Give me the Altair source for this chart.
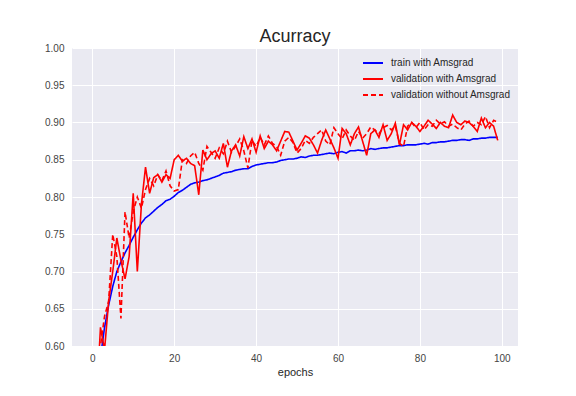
import altair as alt
import pandas as pd

epochs = list(range(100))

train_amsgrad = [
    0.35, 0.50, 0.585, 0.625, 0.655, 0.68, 0.70, 0.713, 0.725, 0.735,
    0.746, 0.756, 0.765, 0.772, 0.776, 0.781, 0.786, 0.79, 0.795, 0.797,
    0.801, 0.806, 0.809, 0.813, 0.817, 0.819, 0.82, 0.822, 0.823, 0.825,
    0.827, 0.829, 0.832, 0.833, 0.834, 0.836, 0.837, 0.838, 0.838, 0.841,
    0.843, 0.844, 0.845, 0.846, 0.846, 0.847, 0.849, 0.850, 0.851, 0.851,
    0.852, 0.854, 0.853, 0.855, 0.856, 0.856, 0.857, 0.858, 0.859, 0.858,
    0.860, 0.861, 0.859, 0.862, 0.862, 0.863, 0.862, 0.863, 0.865, 0.864,
    0.865, 0.866, 0.866, 0.867, 0.868, 0.869, 0.869, 0.870, 0.870, 0.870,
    0.871, 0.872, 0.871, 0.873, 0.873, 0.874, 0.874, 0.875, 0.876, 0.876,
    0.877, 0.877, 0.876, 0.878, 0.878, 0.879, 0.879, 0.880, 0.880, 0.880,
]

val_amsgrad = [
    0.40, 0.52, 0.625, 0.595, 0.66, 0.70, 0.745, 0.715, 0.69, 0.72,
    0.805, 0.70, 0.79, 0.84, 0.805, 0.826, 0.83, 0.82, 0.83, 0.825,
    0.85, 0.856, 0.848, 0.852, 0.845, 0.842, 0.803, 0.863, 0.85, 0.858,
    0.862, 0.852, 0.872, 0.84, 0.862, 0.87, 0.855, 0.881, 0.865, 0.878,
    0.86, 0.882, 0.865, 0.875, 0.87, 0.862, 0.875, 0.888, 0.887, 0.875,
    0.863, 0.872, 0.882, 0.879, 0.87, 0.859, 0.876, 0.89, 0.878, 0.866,
    0.852, 0.892, 0.885, 0.87, 0.885, 0.894, 0.875, 0.856, 0.885, 0.89,
    0.88, 0.897, 0.876, 0.885, 0.899, 0.87, 0.897, 0.89, 0.9, 0.895,
    0.888, 0.895, 0.903, 0.898, 0.892, 0.9, 0.895, 0.893, 0.91, 0.9,
    0.897, 0.902, 0.9, 0.895, 0.888, 0.906, 0.893, 0.9, 0.895, 0.876,
]

val_no_amsgrad = [
    0.40, 0.50, 0.60, 0.64, 0.66, 0.75, 0.72, 0.637, 0.78, 0.745,
    0.78, 0.80, 0.785, 0.81, 0.825, 0.815, 0.83, 0.822, 0.835, 0.815,
    0.808, 0.81, 0.85, 0.845, 0.855, 0.86, 0.845, 0.836, 0.868, 0.86,
    0.852, 0.866, 0.858, 0.875, 0.86, 0.868, 0.878, 0.862, 0.839, 0.876,
    0.868, 0.88, 0.87, 0.882, 0.872, 0.868, 0.856, 0.875, 0.88, 0.873,
    0.859, 0.865, 0.876, 0.872, 0.88, 0.885, 0.89, 0.875, 0.87, 0.893,
    0.885, 0.878, 0.89, 0.882, 0.876, 0.888, 0.879, 0.885, 0.894, 0.89,
    0.885, 0.893, 0.896, 0.89, 0.895, 0.872, 0.868, 0.895, 0.9, 0.893,
    0.9, 0.89, 0.897, 0.895, 0.903, 0.898, 0.901, 0.895, 0.898, 0.893,
    0.89, 0.898, 0.902, 0.895, 0.9, 0.897, 0.908, 0.893, 0.903, 0.9,
]

series_names = ["train with Amsgrad", "validation with Amsgrad", "validation without Amsgrad"]
series_values = [train_amsgrad, val_amsgrad, val_no_amsgrad]
series_colors = ["#0000FF", "#FF0000", "#FF0000"]
series_dash = [[1, 0], [1, 0], [5, 3]]

x_ticks = [0, 20, 40, 60, 80, 100]
y_ticks = [0.60, 0.65, 0.70, 0.75, 0.80, 0.85, 0.90, 0.95, 1.00]

rows = []
for name, vals in zip(series_names, series_values):
    for e, v in zip(epochs, vals):
        rows.append({"epoch": e, "acc": v, "series": name})
df = pd.DataFrame(rows)

FONT = "Liberation Sans"

legend_opts = dict(title=None, orient="none", legendX=290, legendY=4,
                   symbolType="stroke", symbolSize=400,
                   symbolStrokeWidth=1.8, labelFontSize=10,
                   labelFont=FONT, labelColor="#262626",
                   rowPadding=-5.5, labelOffset=7)

chart = alt.Chart(df).mark_line(clip=True, strokeWidth=1.6).encode(
    x=alt.X("epoch:Q",
            scale=alt.Scale(domain=[-4.95, 103.95], nice=False, zero=False),
            axis=alt.Axis(values=x_ticks, title="epochs", grid=True, domain=False,
                          ticks=False, labelPadding=7, titlePadding=3)),
    y=alt.Y("acc:Q",
            scale=alt.Scale(domain=[0.6, 1.0], nice=False, zero=False),
            axis=alt.Axis(values=y_ticks, format=".2f", title=None, grid=True,
                          domain=False, ticks=False, labelPadding=8)),
    color=alt.Color("series:N",
                    scale=alt.Scale(domain=series_names, range=series_colors),
                    legend=alt.Legend(**legend_opts)),
    strokeDash=alt.StrokeDash("series:N",
                              scale=alt.Scale(domain=series_names, range=series_dash),
                              legend=alt.Legend(**legend_opts)),
    order=alt.Order("epoch:Q"),
).properties(
    width=446,
    height=298,
    title=alt.Title("Acurracy", fontSize=18, font=FONT, fontWeight="normal",
                    color="#262626", offset=-3),
    padding={"left": 64, "top": 40, "right": 40, "bottom": 40},
    autosize="none",
    background="white",
).configure_view(
    fill="#EAEAF2", stroke="#EAEAF2", strokeWidth=0,
).configure_axis(
    gridColor="white", gridWidth=1, gridOpacity=1,
    labelFont=FONT, labelFontSize=10, labelColor="#444444",
    titleFont=FONT, titleFontSize=11, titleColor="#262626", titleFontWeight="normal",
)

chart.save("out.html", embed_options={"renderer": "svg", "actions": False})
